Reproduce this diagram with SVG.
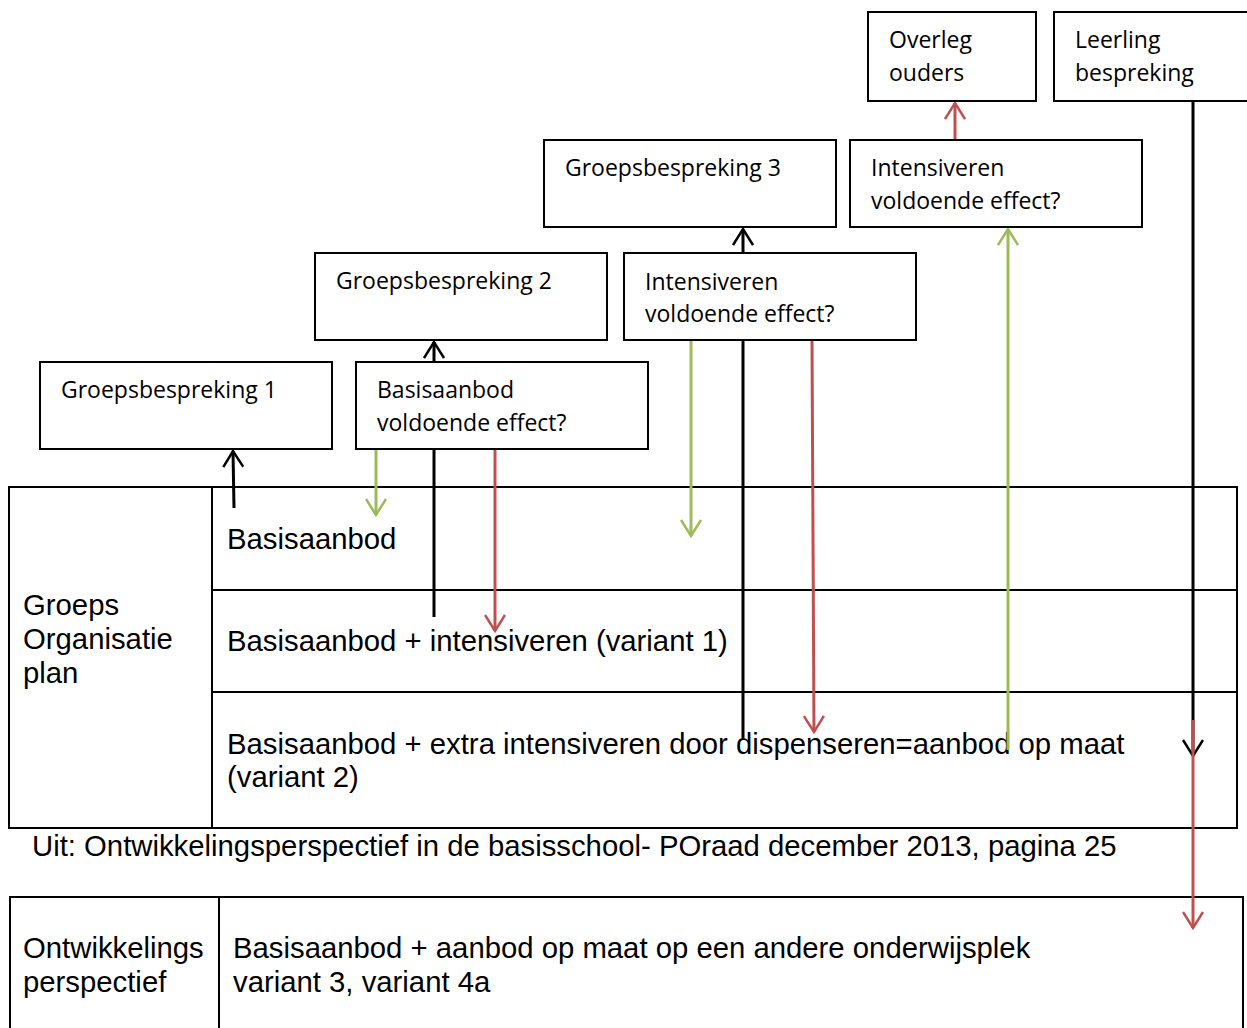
<svg xmlns="http://www.w3.org/2000/svg" width="1247" height="1028" viewBox="0 0 1247 1028">
<style>
.box{fill:#fff;stroke:#000;stroke-width:2}
.bt{font-family:"Open Sans","Noto Sans",sans-serif;font-size:23px;fill:#000}
.tt{font-family:"Liberation Sans",Arial,sans-serif;font-size:29.3px;fill:#000}
.tl{fill:none;stroke:#000;stroke-width:2}
.k{stroke:#000;stroke-width:3;fill:none}
.g{stroke:#9BBB59;stroke-width:3;fill:none}
.r{stroke:#C0504D;stroke-width:3;fill:none}
</style>
<defs>
<marker id="ak" viewBox="0 0 20 22" refX="17" refY="11" markerWidth="20" markerHeight="22" markerUnits="userSpaceOnUse" orient="auto"><path d="M1,1 L17,11 L1,21" fill="none" stroke="#000" stroke-width="2.5"/></marker>
<marker id="ag" viewBox="0 0 20 22" refX="17" refY="11" markerWidth="20" markerHeight="22" markerUnits="userSpaceOnUse" orient="auto"><path d="M1,1 L17,11 L1,21" fill="none" stroke="#9BBB59" stroke-width="2.5"/></marker>
<marker id="ar" viewBox="0 0 20 22" refX="17" refY="11" markerWidth="20" markerHeight="22" markerUnits="userSpaceOnUse" orient="auto"><path d="M1,1 L17,11 L1,21" fill="none" stroke="#C0504D" stroke-width="2.5"/></marker>
</defs>
<rect width="1247" height="1028" fill="#fff"/>

<g id="table1">
<rect x="9" y="487" width="1228" height="341" class="tl"/>
<line x1="212" y1="487" x2="212" y2="828" class="tl"/>
<line x1="212" y1="590" x2="1237" y2="590" class="tl"/>
<line x1="212" y1="692" x2="1237" y2="692" class="tl"/>
<text class="tt" x="23" y="615">Groeps</text>
<text class="tt" x="23" y="649">Organisatie</text>
<text class="tt" x="23" y="683">plan</text>
<text class="tt" x="227" y="549">Basisaanbod</text>
<text class="tt" x="227" y="651">Basisaanbod + intensiveren (variant 1)</text>
<text class="tt" x="227" y="754">Basisaanbod + extra intensiveren door dispenseren=aanbod op maat</text>
<text class="tt" x="227" y="787">(variant 2)</text>
</g>
<text id="caption" class="tt" x="32" y="856">Uit: Ontwikkelingsperspectief in de basisschool- POraad december 2013, pagina 25</text>

<g id="table2">
<rect x="10" y="897" width="1233" height="140" class="tl"/>
<line x1="219" y1="897" x2="219" y2="1028" class="tl"/>
<text class="tt" x="23" y="958">Ontwikkelings</text>
<text class="tt" x="23" y="992">perspectief</text>
<text class="tt" x="233" y="958">Basisaanbod + aanbod op maat op een andere onderwijsplek</text>
<text class="tt" x="233" y="992">variant 3, variant 4a</text>
</g>

<g id="connectors">
<line class="k" x1="234" y1="508" x2="233" y2="451" marker-end="url(#ak)"/>
<line class="g" x1="376" y1="450" x2="376" y2="515" marker-end="url(#ag)"/>
<line class="k" x1="434" y1="617" x2="434" y2="342" marker-end="url(#ak)"/>
<line class="r" x1="495" y1="450" x2="495" y2="631" marker-end="url(#ar)"/>
<line class="g" x1="691" y1="341" x2="691" y2="536" marker-end="url(#ag)"/>
<line class="k" x1="743" y1="738" x2="743" y2="229" marker-end="url(#ak)"/>
<line class="r" x1="812" y1="341" x2="814" y2="732" marker-end="url(#ar)"/>
<line class="g" x1="1008" y1="750" x2="1008" y2="229" marker-end="url(#ag)"/>
<line class="r" x1="955" y1="140" x2="955" y2="103" marker-end="url(#ar)"/>
<line class="k" x1="1193" y1="101" x2="1193" y2="756" marker-end="url(#ak)"/>
<line class="r" x1="1193" y1="720" x2="1193" y2="928" marker-end="url(#ar)"/>
</g>

<g id="overleg"><rect class="box" x="868" y="12" width="168" height="89"/><text class="bt" x="889" y="48">Overleg</text><text class="bt" x="889" y="81">ouders</text></g>
<g id="leerling"><rect class="box" x="1054" y="12" width="200" height="89"/><text class="bt" x="1075" y="48">Leerling</text><text class="bt" x="1075" y="81">bespreking</text></g>
<g id="gb3"><rect class="box" x="544" y="140" width="292" height="87"/><text class="bt" x="565" y="176">Groepsbespreking 3</text></g>
<g id="int2"><rect class="box" x="850" y="140" width="292" height="87"/><text class="bt" x="871" y="176">Intensiveren</text><text class="bt" x="871" y="209">voldoende effect?</text></g>
<g id="gb2"><rect class="box" x="315" y="253" width="292" height="87"/><text class="bt" x="336" y="289">Groepsbespreking 2</text></g>
<g id="int1"><rect class="box" x="624" y="253" width="292" height="87"/><text class="bt" x="645" y="290">Intensiveren</text><text class="bt" x="645" y="322">voldoende effect?</text></g>
<g id="gb1"><rect class="box" x="40" y="362" width="292" height="87"/><text class="bt" x="61" y="398">Groepsbespreking 1</text></g>
<g id="basis"><rect class="box" x="356" y="362" width="292" height="87"/><text class="bt" x="377" y="398">Basisaanbod</text><text class="bt" x="377" y="431">voldoende effect?</text></g>
</svg>
